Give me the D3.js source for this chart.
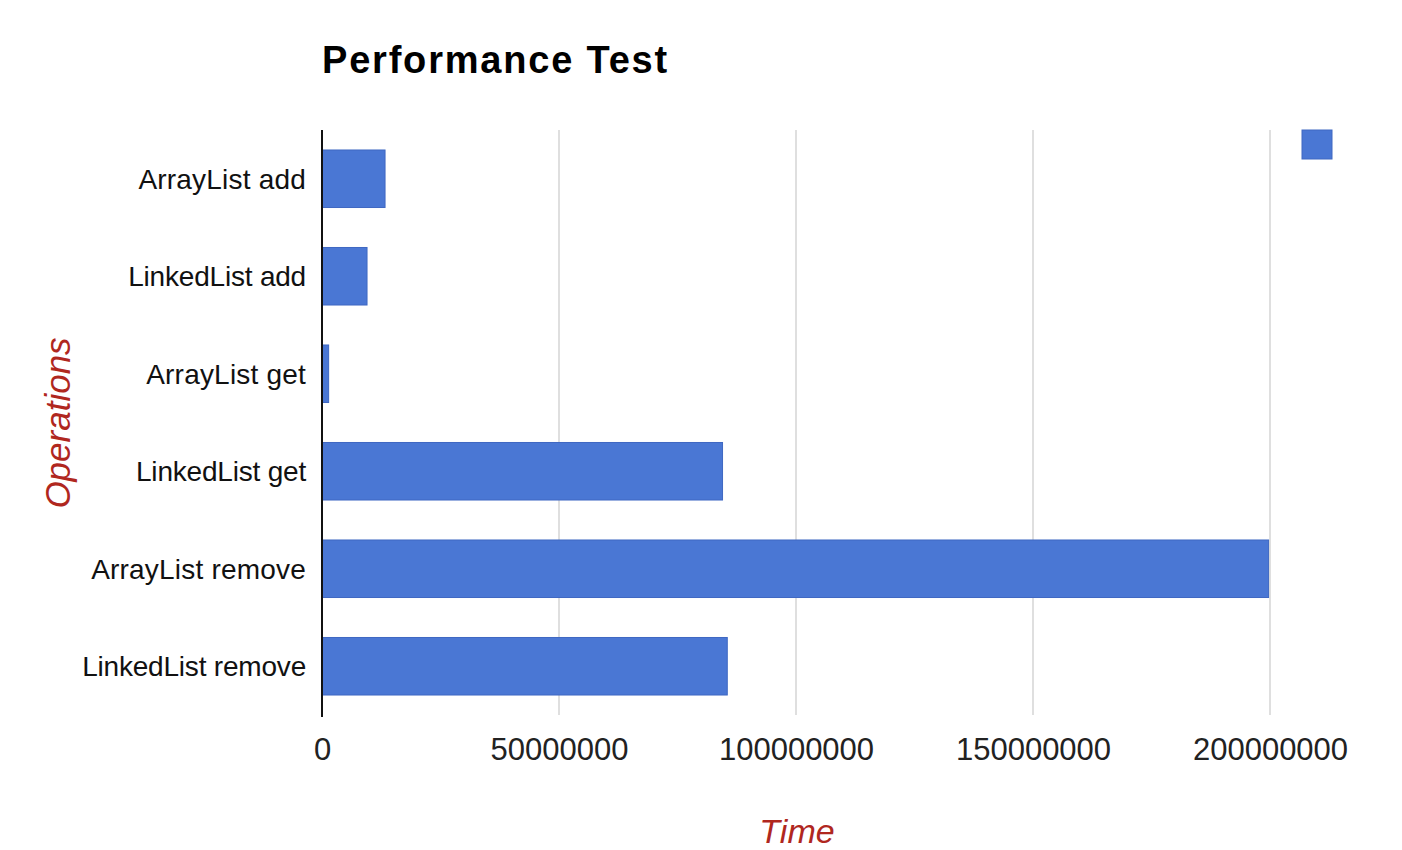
<!DOCTYPE html>
<html><head><meta charset="utf-8">
<script src="https://cdn.jsdelivr.net/npm/d3@7/dist/d3.min.js"></script>
<style>body{margin:0;background:#fff}</style>
</head><body>
<script>
const categories = ["ArrayList add","LinkedList add","ArrayList get","LinkedList get","ArrayList remove","LinkedList remove"];
const values = [13300000, 9500000, 1400000, 84500000, 199700000, 85500000];
const xTicks = [0, 50000000, 100000000, 150000000, 200000000];
const title = "Performance Test";
const xTitle = "Time";
const yTitle = "Operations";

const W = 1402, H = 850;
const m = {left:322, top:130, right:1402-1270, bottom:850-715};
const svg = d3.select("body").append("svg").attr("width",W).attr("height",H);
const x = d3.scaleLinear().domain([0,200000000]).range([m.left, 1270]);
const y = d3.scaleBand().domain(categories).range([m.top, 715]).paddingInner(0.41).paddingOuter(0.205);
const font = "'Liberation Sans', Arial, sans-serif";

// gridlines
svg.append("g").selectAll("line").data(xTicks.slice(1)).join("line")
  .attr("x1",d=>x(d)).attr("x2",d=>x(d)).attr("y1",m.top).attr("y2",715)
  .attr("stroke","#d4d4d4").attr("stroke-width",1.5);

// bars
svg.append("g").selectAll("rect").data(values).join("rect")
  .attr("x",x(0)).attr("y",(d,i)=>y(categories[i]))
  .attr("width",d=>x(d)-x(0)).attr("height",y.bandwidth())
  .attr("fill","#4a77d4").attr("stroke","#3f68c2").attr("stroke-width",1);

// x axis labels
const xa = svg.append("g").attr("transform",`translate(0,715)`)
  .call(d3.axisBottom(x).tickValues(xTicks).tickSize(0).tickPadding(0).tickFormat(d3.format("d")));
xa.select(".domain").remove();
xa.selectAll("text").attr("y",45).attr("dy",0).attr("font-family",font).attr("font-size",31).attr("fill","#222");

// y axis
const ya = svg.append("g").attr("transform",`translate(${m.left},0)`)
  .call(d3.axisLeft(y).tickSize(0).tickPadding(16));
ya.select(".domain").remove();
ya.selectAll("text").attr("font-family",font).attr("font-size",28)
  .attr("letter-spacing",d=>d.startsWith("Linked")?-0.2:0.2).attr("fill","#111").attr("dy","0.36em");

svg.append("line").attr("x1",m.left).attr("x2",m.left).attr("y1",m.top).attr("y2",717)
  .attr("stroke","#111").attr("stroke-width",2);

// title
svg.append("text").attr("x",322).attr("y",73).text(title)
  .attr("font-family",font).attr("font-weight","bold").attr("font-size",38).attr("letter-spacing",1.8).attr("fill","#000");

// axis titles
svg.append("text").attr("x",797).attr("y",843).attr("text-anchor","middle").text(xTitle)
  .attr("font-family",font).attr("font-style","italic").attr("font-size",34).attr("fill","#b0271e");
svg.append("text").attr("transform","translate(70,423) rotate(-90)").attr("text-anchor","middle").text(yTitle)
  .attr("font-family",font).attr("font-style","italic").attr("font-size",35).attr("fill","#b0271e");

// legend swatch
svg.append("rect").attr("x",1302).attr("y",130).attr("width",30).attr("height",29)
  .attr("fill","#4a77d4").attr("stroke","#3f68c2");
</script>
</body></html>
